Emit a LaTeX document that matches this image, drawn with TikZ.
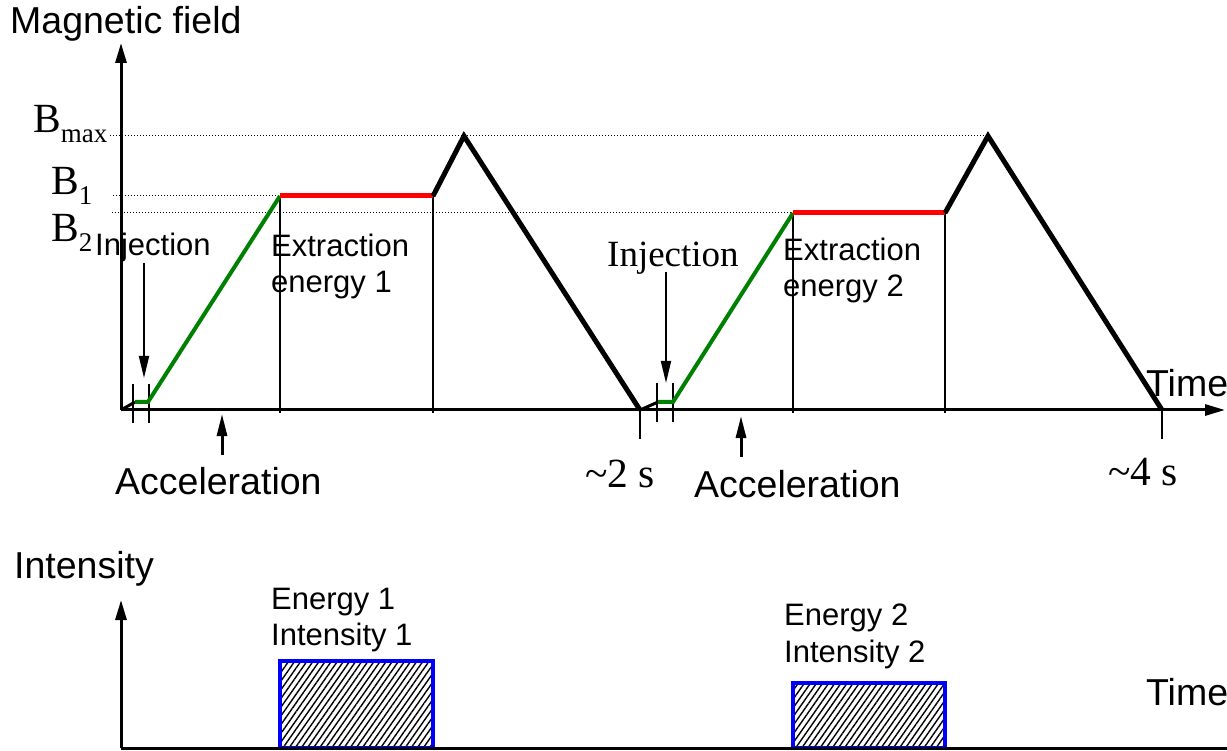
\documentclass[tikz,border=0pt]{standalone}
\usepackage{fontspec}
\setmainfont{Liberation Serif}
\setsansfont{Liberation Sans}
\usetikzlibrary{arrows.meta,patterns.meta}
\begin{document}
\begin{tikzpicture}[x=1pt,y=-1pt,
  lbl/.style={inner sep=0pt,anchor=base west},
  bigsans/.style={lbl,font=\sffamily\fontsize{37.5}{43}\selectfont},
  midsans/.style={lbl,font=\sffamily\fontsize{31}{36}\selectfont},
  smallsans/.style={lbl,font=\sffamily\fontsize{31}{36}\selectfont},
  bigserif/.style={lbl,font=\rmfamily\fontsize{41.5}{47}\selectfont},
  axisline/.style={line width=3pt,-{Triangle[length=20pt,width=11pt]}},
  plainaxis/.style={line width=3pt},
  blackc/.style={line width=5pt,line join=miter},
  greenc/.style={line width=4pt,draw={rgb,255:red,0;green,128;blue,0}},
  redc/.style={line width=5pt,draw={rgb,255:red,255;green,0;blue,0}},
  thinl/.style={line width=1.5pt},
  dotl/.style={line width=1pt,dash pattern=on 1pt off 2pt},
  pointer/.style={line width=1.8pt,-{Triangle[length=22pt,width=10pt]}},
  pulse/.style={line width=4.5pt,draw={rgb,255:red,0;green,0;blue,255},
    pattern={Lines[angle=55,distance=5pt,line width=1.4pt]},pattern color=black}
]
\useasboundingbox (0,0) rectangle (1227,751);

% ---------- coordinates, top plot ----------
\coordinate (O) at (121,410);
\coordinate (Ytop) at (121,43);
\coordinate (Xend) at (1225,410);
\coordinate (a0) at (135,402);
\coordinate (a1) at (148,402);
\coordinate (a2) at (280,196);
\coordinate (a3) at (433,196);
\coordinate (a4) at (464,136);
\coordinate (a5) at (640,410);
\coordinate (b0) at (658,402);
\coordinate (b1) at (673,402);
\coordinate (b2) at (793,213);
\coordinate (b3) at (945,213);
\coordinate (b4) at (988,136);
\coordinate (b5) at (1162,410);

% dotted level lines
\coordinate (dmaxL) at (110,136);
\coordinate (d1L) at (113,196);
\coordinate (d2L) at (112,213);
\draw[dotl] (dmaxL) -- (b4);
\draw[dotl] (d1L) -- (a3);
\draw[dotl] (d2L) -- (b2);

% thin vertical lines
\coordinate (v1) at (280,413);
\coordinate (v2) at (433,413);
\coordinate (v3) at (793,413);
\coordinate (v4) at (945,413);
\draw[thinl] (a2) -- (v1);
\draw[thinl] (a3) -- (v2);
\draw[thinl] (b2) -- (v3);
\draw[thinl] (b3) -- (v4);

% ticks
\coordinate (t1a) at (133,384); \coordinate (t1b) at (133,423);
\coordinate (t2a) at (149,384); \coordinate (t2b) at (149,423);
\coordinate (t3a) at (657,383); \coordinate (t3b) at (657,422);
\coordinate (t4a) at (673,383); \coordinate (t4b) at (673,422);
\coordinate (t5b) at (640,439);
\coordinate (t6b) at (1162,439);
\draw[thinl] (t1a) -- (t1b);
\draw[thinl] (t2a) -- (t2b);
\draw[thinl] (t3a) -- (t3b);
\draw[thinl] (t4a) -- (t4b);
\draw[line width=2.5pt] (a5) -- (t5b);
\draw[line width=2.5pt] (b5) -- (t6b);

% axes
\draw[axisline] (O) -- (Ytop);
\draw[axisline] (O) -- (Xend);

% curves
\draw[line width=3pt] (O) -- (a0);
\draw[greenc] (a0) -- (a1) -- (a2);
\draw[redc] (a2) -- (a3);
\draw[blackc] (a3) -- (a4) -- (a5);
\draw[line width=3pt] (a5) -- (b0);
\draw[greenc] (b0) -- (b1) -- (b2);
\draw[redc] (b2) -- (b3);
\draw[blackc] (b3) -- (b4) -- (b5);

% pointers
\coordinate (p1s) at (144,263); \coordinate (p1e) at (144,378);
\coordinate (p2s) at (666,272); \coordinate (p2e) at (666,383);
\coordinate (p3s) at (222,455); \coordinate (p3e) at (222,414);
\coordinate (p4s) at (741,457); \coordinate (p4e) at (741,416);
\draw[pointer] (p1s) -- (p1e);
\draw[pointer] (p2s) -- (p2e);
\draw[pointer,line width=3pt] (p3s) -- (p3e);
\draw[pointer,line width=3pt] (p4s) -- (p4e);

% labels top
\node[bigsans] (mag) at (10,34) {Magnetic field};
\node[bigserif] (bmax) at (33,133) {B\raisebox{-10pt}{\fontsize{27}{27}\selectfont max}};
\node[bigserif] (bone) at (51,195) {B\raisebox{-10pt}{\fontsize{27}{27}\selectfont 1}};
\node[bigserif] (btwo) at (51,242) {B\raisebox{-10pt}{\fontsize{27}{27}\selectfont 2}};
\node[midsans] (inj1) at (95,256) {Injection};
\node[midsans] (ext1a) at (271,257) {Extraction};
\node[midsans] (ext1b) at (271,293) {energy 1};
\node[lbl,font=\rmfamily\fontsize{37}{42}\selectfont] (inj2) at (607,267) {Injection};
\node[midsans] (ext2a) at (783,261) {Extraction};
\node[midsans] (ext2b) at (783,297) {energy 2};
\node[bigsans] (time1) at (1146,397) {Time};
\node[bigsans] (acc1) at (115,494) {Acceleration};
\node[bigsans] (acc2) at (694,497) {Acceleration};
\node[bigserif] (s2) at (585,487) {\textasciitilde2 s};
\node[bigserif] (s4) at (1108,485) {\textasciitilde4 s};

% ---------- bottom plot ----------
\coordinate (O2) at (121,748);
\coordinate (Y2top) at (121,600);
\coordinate (X2end) at (1227,748);
\draw[pulse] (280,748) rectangle (433,661);
\draw[pulse] (793,748) rectangle (945,683);
\draw[axisline] (O2) -- (Y2top);
\draw[plainaxis] (O2) -- (X2end);

\node[bigsans] (intens) at (14,578) {Intensity};
\node[smallsans] (en1a) at (271,609) {Energy 1};
\node[smallsans] (en1b) at (271,645) {Intensity 1};
\node[smallsans] (en2a) at (784,625) {Energy 2};
\node[smallsans] (en2b) at (784,662) {Intensity 2};
\node[bigsans] (time2) at (1146,705) {Time};
\end{tikzpicture}
\end{document}
